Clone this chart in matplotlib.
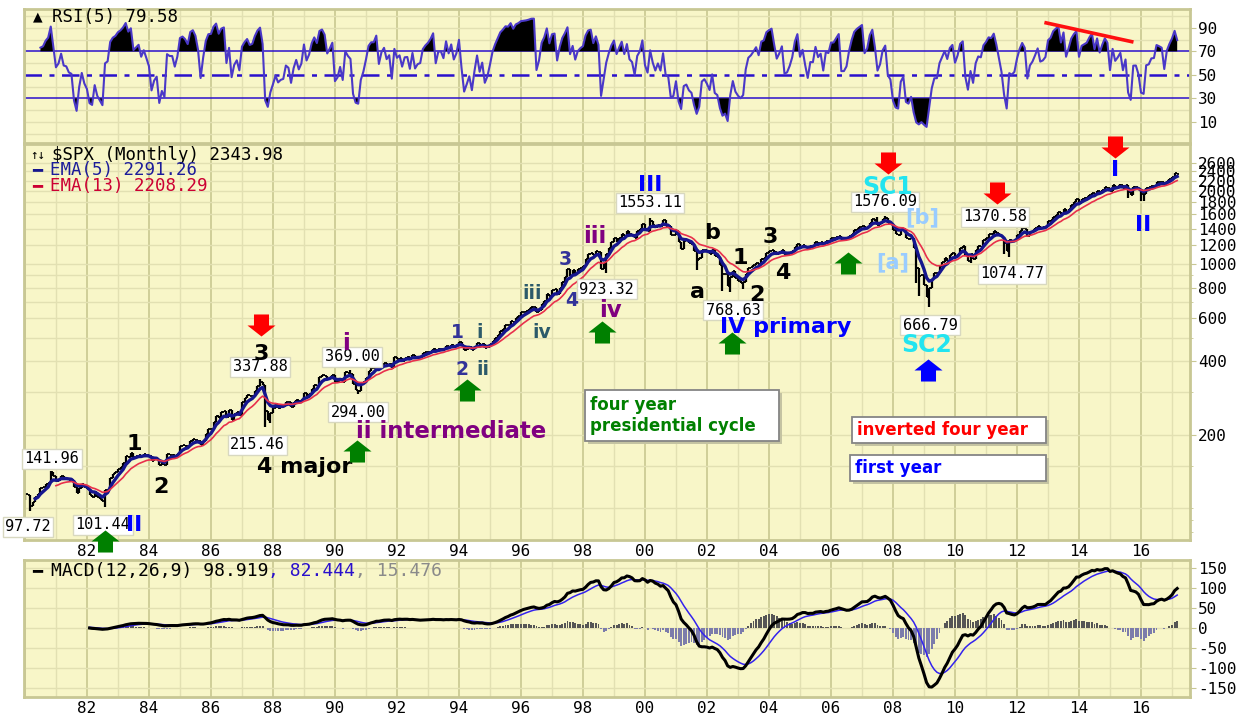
import numpy as np
import pandas as pd
import matplotlib
matplotlib.use("Agg")
import matplotlib.pyplot as plt
from matplotlib.path import Path
from matplotlib.patches import Rectangle
from matplotlib.ticker import FixedLocator, NullFormatter

plt.rcParams['font.family'] = ['DejaVu Sans Mono', 'DejaVu Sans']
plt.rcParams['axes.unicode_minus'] = False

# S&P 500 monthly closes, Jan 1980 .. Mar 2017
spx_close = [
    114.16, 113.66, 102.09, 106.29, 111.24, 114.24, 121.67, 122.38, 125.46, 127.47, 140.52, 135.76,  # 1980
    129.55, 131.27, 136.00, 132.81, 132.59, 131.21, 130.92, 122.79, 116.18, 121.89, 126.35, 122.55,  # 1981
    120.40, 113.11, 111.96, 116.44, 111.88, 109.61, 107.09, 119.51, 120.42, 133.71, 138.54, 140.64,  # 1982
    145.30, 148.06, 152.96, 164.42, 162.39, 168.11, 162.56, 164.40, 166.07, 163.55, 166.40, 164.93,  # 1983
    163.41, 157.06, 159.18, 160.05, 150.55, 153.18, 150.66, 166.68, 166.10, 166.09, 163.58, 167.24,  # 1984
    179.63, 181.18, 180.66, 179.83, 189.55, 191.85, 190.92, 188.63, 182.08, 189.82, 202.17, 211.28,  # 1985
    211.78, 226.92, 238.90, 235.52, 247.35, 250.84, 236.12, 252.93, 231.32, 243.98, 249.22, 242.17,  # 1986
    274.08, 284.20, 291.70, 288.36, 290.10, 304.00, 318.66, 329.80, 321.83, 251.79, 230.30, 247.08,  # 1987
    257.07, 267.82, 258.89, 261.33, 262.16, 273.50, 272.02, 261.52, 271.91, 278.97, 273.70, 277.72,  # 1988
    297.47, 288.86, 294.87, 309.64, 320.52, 317.98, 346.08, 351.45, 349.15, 340.36, 345.99, 353.40,  # 1989
    329.08, 331.89, 339.94, 330.80, 361.23, 358.02, 356.15, 322.56, 306.05, 304.00, 322.22, 330.22,  # 1990
    343.93, 367.07, 375.22, 375.35, 389.83, 371.16, 387.81, 395.43, 387.86, 392.45, 375.22, 417.09,  # 1991
    408.79, 412.70, 403.69, 414.95, 415.35, 408.14, 424.21, 414.03, 417.80, 418.68, 431.35, 435.71,  # 1992
    438.78, 443.38, 451.67, 440.19, 450.19, 450.53, 448.13, 463.56, 458.93, 467.83, 461.79, 466.45,  # 1993
    481.61, 467.14, 445.77, 450.91, 456.50, 444.27, 458.26, 475.49, 462.69, 472.35, 453.69, 459.27,  # 1994
    470.42, 487.39, 500.71, 514.71, 533.40, 544.75, 562.06, 561.88, 584.41, 581.50, 605.37, 615.93,  # 1995
    636.02, 640.43, 645.50, 654.17, 669.12, 670.63, 639.95, 651.99, 687.31, 705.27, 757.02, 740.74,  # 1996
    786.16, 790.82, 757.12, 801.34, 848.28, 885.14, 954.29, 899.47, 947.28, 914.62, 955.40, 970.43,  # 1997
    980.28, 1049.34, 1101.75, 1111.75, 1090.82, 1133.84, 1120.67, 957.28, 1017.01, 1098.67, 1163.63, 1229.23,  # 1998
    1279.64, 1238.33, 1286.37, 1335.18, 1301.84, 1372.71, 1328.72, 1320.41, 1282.71, 1362.93, 1388.91, 1469.25,  # 1999
    1394.46, 1366.42, 1498.58, 1452.43, 1420.60, 1454.60, 1430.83, 1517.68, 1436.51, 1429.40, 1314.95, 1320.28,  # 2000
    1366.01, 1239.94, 1160.33, 1249.46, 1255.82, 1224.42, 1211.23, 1133.58, 1040.94, 1059.78, 1139.45, 1148.08,  # 2001
    1130.20, 1106.73, 1147.39, 1076.92, 1067.14, 989.82, 911.62, 916.07, 815.28, 885.76, 936.31, 879.82,  # 2002
    855.70, 841.15, 848.18, 916.92, 963.59, 974.50, 990.31, 1008.01, 995.97, 1050.71, 1058.20, 1111.92,  # 2003
    1131.13, 1144.94, 1126.21, 1107.30, 1120.68, 1140.84, 1101.72, 1104.24, 1114.58, 1130.20, 1173.82, 1211.92,  # 2004
    1181.27, 1203.60, 1180.59, 1156.85, 1191.50, 1191.33, 1234.18, 1220.33, 1228.81, 1207.01, 1249.48, 1248.29,  # 2005
    1280.08, 1280.66, 1294.83, 1310.61, 1270.09, 1270.20, 1276.66, 1303.82, 1335.85, 1377.94, 1400.63, 1418.30,  # 2006
    1438.24, 1406.82, 1420.86, 1482.37, 1530.62, 1503.35, 1455.27, 1473.99, 1526.75, 1549.38, 1481.14, 1468.36,  # 2007
    1378.55, 1330.63, 1322.70, 1385.59, 1400.38, 1280.00, 1267.38, 1282.83, 1166.36, 968.75, 896.24, 903.25,  # 2008
    825.88, 735.09, 797.87, 872.81, 919.14, 919.32, 987.48, 1020.62, 1057.08, 1036.19, 1095.63, 1115.10,  # 2009
    1073.87, 1104.49, 1169.43, 1186.69, 1089.41, 1030.71, 1101.60, 1049.33, 1141.20, 1183.26, 1180.55, 1257.64,  # 2010
    1286.12, 1327.22, 1325.83, 1363.61, 1345.20, 1320.64, 1292.28, 1218.89, 1131.42, 1253.30, 1246.96, 1257.60,  # 2011
    1312.41, 1365.68, 1408.47, 1397.91, 1310.33, 1362.16, 1379.32, 1406.58, 1440.67, 1412.16, 1416.18, 1426.19,  # 2012
    1498.11, 1514.68, 1569.19, 1597.57, 1630.74, 1606.28, 1685.73, 1632.97, 1681.55, 1756.54, 1805.81, 1848.36,  # 2013
    1782.59, 1859.45, 1872.34, 1883.95, 1923.57, 1960.23, 1930.67, 2003.37, 1972.29, 2018.05, 2067.56, 2058.90,  # 2014
    1994.99, 2104.50, 2067.89, 2085.51, 2107.39, 2063.11, 2103.84, 1972.18, 1920.03, 2079.36, 2080.41, 2043.94,  # 2015
    1940.24, 1932.23, 2059.74, 2065.30, 2096.95, 2098.86, 2173.60, 2170.95, 2168.27, 2126.15, 2198.81, 2238.83,  # 2016
    2278.87, 2363.64, 2343.98,  # 2017
]
close_before_start = 107.94   # Dec 1979
first_year = 1980

# monthly extremes that show up as long wicks / labelled pivots
bar_lows = {"1980-03": 97.72, "1982-08": 101.44, "1987-10": 215.46, "1987-12": 223.9,
            "1990-10": 294.00, "1998-10": 923.32, "2001-09": 944.8, "2002-07": 775.7,
            "2002-10": 768.63, "2003-03": 788.9, "2008-10": 839.8, "2008-11": 741.0,
            "2009-03": 666.79, "2010-07": 1010.9, "2011-08": 1101.5, "2011-10": 1074.77,
            "2015-08": 1867.0, "2016-01": 1812.3, "2016-02": 1810.1}
bar_highs = {"1980-11": 141.96, "1987-08": 337.88, "1990-07": 369.00, "2000-03": 1553.11,
             "2007-07": 1555.9, "2007-10": 1576.09, "2011-05": 1370.58, "2015-05": 2134.7}

# price callouts: text, year, price
callouts = [("97.72", 1980.10, 84.0), ("141.96", 1980.87, 159.5), ("101.44", 1982.52, 85.6),
            ("337.88", 1987.58, 379.8), ("215.46", 1987.50, 182.0), ("369.00", 1990.55, 417.3),
            ("294.00", 1990.74, 248.4), ("923.32", 1998.77, 792), ("1553.11", 2000.16, 1783),
            ("768.63", 2002.84, 650), ("1576.09", 2007.74, 1800), ("666.79", 2009.19, 564),
            ("1370.58", 2011.29, 1563), ("1074.77", 2011.84, 913)]

# wave labels by colour group: text, year, price
waves_black = [("1", 1983.52, 183.7), ("2", 1984.39, 122.5), ("3", 1987.61, 429.4),
               ("4 major", 1989.03, 148.0), ("a", 2001.68, 770), ("b", 2002.16, 1344),
               ("1", 2003.06, 1062), ("2", 2003.61, 749), ("3", 2004.03, 1294), ("4", 2004.45, 922)]
waves_blue = [("II", 1983.52, 85.6), ("III", 2000.16, 2113), ("IV primary", 2004.55, 554),
              ("I", 2015.16, 2434), ("II", 2016.06, 1449)]
waves_purple = [("i", 1990.35, 471.8), ("ii intermediate", 1993.74, 207.6),
                ("iii", 1998.39, 1294), ("iv", 1998.87, 650)]
waves_slate = [("1", 1993.94, 523.4), ("2", 1994.10, 369.2), ("3", 1997.42, 1042), ("4", 1997.65, 714)]
waves_teal = [("i", 1994.68, 523.4), ("ii", 1994.77, 369.2), ("iii", 1996.35, 756), ("iv", 1996.68, 528)]
waves_cyan = [("SC1", 2007.84, 2073), ("SC2", 2009.10, 467)]
waves_light = [("[a]", 2008.00, 1023), ("[b]", 2008.94, 1563)]

# signal arrows: year, price
arrows_green_up = [(1982.58, 73.3), (1990.71, 172.1), (1994.26, 305.7), (1998.61, 528),
                   (2002.81, 476), (2006.55, 1013)]
arrows_red_down = [(1987.61, 564), (2007.84, 2600), (2011.35, 1960), (2015.16, 3024)]
arrows_blue_up = [(2009.13, 369)]

rsi_trend_years = [2012.94, 2015.70]
rsi_trend_values = [94.2, 78.2]

year_ticks = list(range(1982, 2017, 2))
year_labels = ["%02d" % (y % 100) for y in year_ticks]
price_ticks = [200, 400, 600, 800, 1000, 1200, 1400, 1600, 1800, 2000, 2200, 2400, 2600]
price_minor = [80, 90, 100, 150, 300, 500, 700, 900]
rsi_ticks = [10, 30, 50, 70, 90]
macd_ticks = [-150, -100, -50, 0, 50, 100, 150]

# ---------------------------------------------------------------- indicators
close = np.array(spx_close)
n = len(close)
t = first_year + np.arange(n) / 12.0
opens = np.r_[close_before_start, close[:-1]]
highs = np.maximum(opens, close)
lows = np.minimum(opens, close)
for key, v in bar_lows.items():
    i = (int(key[:4]) - first_year) * 12 + int(key[5:]) - 1
    lows[i] = min(lows[i], v)
for key, v in bar_highs.items():
    i = (int(key[:4]) - first_year) * 12 + int(key[5:]) - 1
    highs[i] = max(highs[i], v)

s = pd.Series(close)
ema5 = s.ewm(span=5, adjust=False).mean().values
ema13 = s.ewm(span=13, adjust=False).mean().values
delta = s.diff()
gain = delta.clip(lower=0).ewm(alpha=1 / 5, adjust=False).mean()
loss = (-delta.clip(upper=0)).ewm(alpha=1 / 5, adjust=False).mean()
rsi = (100 - 100 / (1 + gain / loss)).values
macd = (s.ewm(span=12, adjust=False).mean() - s.ewm(span=26, adjust=False).mean())
signal = macd.ewm(span=9, adjust=False).mean()
hist = (macd - signal).values
macd = macd.values
signal = signal.values

# ---------------------------------------------------------------- layout
W, H = 1245, 717
BG = "#F8F6C8"
GRID_DARK = "#CFCE98"
GRID_LIGHT = "#E2E0B2"
BORDER = "#C8C794"
X0, X1 = 1979.97, 2017.58

fig = plt.figure(figsize=(W / 100, H / 100), dpi=100)
fig.patch.set_facecolor("white")
ax_rsi = fig.add_axes([24 / W, 1 - 143 / H, 1166 / W, 134 / H])
ax_px = fig.add_axes([24 / W, 1 - 540 / H, 1166 / W, 396 / H])
ax_macd = fig.add_axes([24 / W, 1 - 697 / H, 1166 / W, 137 / H])


def panel(ax, hlines):
    ax.set_facecolor(BG)
    ax.set_xlim(X0, X1)
    for yr in range(1980, 2018):
        even = yr % 2 == 0
        ax.axvline(yr, color=GRID_DARK if even else GRID_LIGHT, lw=1.4 if even else 1.0, zorder=0)
    for v in hlines:
        ax.axhline(v, color=GRID_LIGHT, lw=1.0, zorder=0)
    for sp in ax.spines.values():
        sp.set_color(BORDER)
        sp.set_linewidth(2)
    ax.yaxis.tick_right()
    ax.tick_params(axis="y", which="major", length=4, color=BORDER, pad=2, labelsize=11.5)
    ax.tick_params(axis="y", which="minor", length=2, color=BORDER)
    ax.tick_params(axis="x", length=0, pad=3, labelsize=11.5)
    ax.set_xticks(year_ticks)
    ax.set_xticklabels(year_labels)


# ---- RSI
panel(ax_rsi, [0, 10, 20, 40, 60, 80, 90, 100])
ax_rsi.set_ylim(-8, 106)
ax_rsi.set_yticks(rsi_ticks)
ax_rsi.tick_params(axis="x", labelbottom=False)
rc = "#2A10CC"
ax_rsi.axhline(70, color=rc, lw=1.1, zorder=1)
ax_rsi.axhline(30, color=rc, lw=1.1, zorder=1)
ax_rsi.axhline(50, color=rc, lw=1.8, ls=(0, (7, 3, 2, 3)), zorder=1)
tr, rr = t[6:], rsi[6:]
ax_rsi.fill_between(tr, rr, 70, where=rr > 70, interpolate=True, color="black", lw=0, zorder=2)
ax_rsi.fill_between(tr, rr, 30, where=rr < 30, interpolate=True, color="black", lw=0, zorder=2)
ax_rsi.plot(tr, rr, color="#4A38C8", lw=1.5, zorder=3)
ax_rsi.plot(rsi_trend_years, rsi_trend_values, color="#FF1010", lw=2.6, zorder=4)
ax_rsi.text(0.0115, 0.94, "▲", transform=ax_rsi.transAxes, fontsize=9, color="black",
            ha="center", va="center", family="DejaVu Sans")
ax_rsi.text(0.024, 0.94, "RSI(5) 79.58", transform=ax_rsi.transAxes, fontsize=12.5,
            ha="left", va="center", color="black")

# ---- price
panel(ax_px, [])
ax_px.set_yscale("log")
ax_px.set_ylim(74.3, 3110)
for v in price_ticks + [300, 500, 700, 900, 100, 150]:
    ax_px.axhline(v, color=GRID_LIGHT, lw=1.0, zorder=0)
ax_px.yaxis.set_major_locator(FixedLocator(price_ticks))
ax_px.set_yticklabels([str(v) for v in price_ticks])
ax_px.yaxis.set_minor_locator(FixedLocator(price_minor))
ax_px.yaxis.set_minor_formatter(NullFormatter())
ax_px.set_xlim(X0, X1)

ax_px.vlines(t, lows, highs, color="black", lw=1.6, zorder=2)
ax_px.hlines(opens, t - 0.045, t, color="black", lw=1.3, zorder=2)
ax_px.hlines(close, t, t + 0.045, color="black", lw=1.3, zorder=2)
ax_px.plot(t[4:], ema5[4:], color="#16168E", lw=2.4, zorder=3)
ax_px.plot(t[12:], ema13[12:], color="#E8304C", lw=1.2, zorder=4)

ax_px.text(0.0115, 0.972, "↑↓", transform=ax_px.transAxes, fontsize=9, ha="center", va="center")
ax_px.text(0.024, 0.972, "$SPX (Monthly) 2343.98", transform=ax_px.transAxes, fontsize=12.5,
           ha="left", va="center", color="black")
ax_px.text(0.0115, 0.934, "━", transform=ax_px.transAxes, fontsize=12, ha="center", va="center",
           color="#16168E")
ax_px.text(0.0225, 0.934, "EMA(5) 2291.26", transform=ax_px.transAxes, fontsize=12.5,
           ha="left", va="center", color="#1C1C9A")
ax_px.text(0.0115, 0.894, "━", transform=ax_px.transAxes, fontsize=12, ha="center", va="center",
           color="#CC0033")
ax_px.text(0.0225, 0.894, "EMA(13) 2208.29", transform=ax_px.transAxes, fontsize=12.5,
           ha="left", va="center", color="#CC0033")

for txt, yr, p in callouts:
    ax_px.text(yr, p, txt, fontsize=11, ha="center", va="center", color="black", zorder=6,
               bbox=dict(boxstyle="square,pad=0.15", fc="white", ec="#D8D8C0", lw=1))

wave_groups = [(waves_black, "black", 16), (waves_blue, "#0000FF", 16),
               (waves_purple, "#800080", 16.5), (waves_slate, "#333399", 13.5),
               (waves_teal, "#2C5A6A", 13.5), (waves_cyan, "#22E4F0", 17),
               (waves_light, "#99CCFF", 15)]
for group, col, size in wave_groups:
    for txt, yr, p in group:
        ax_px.text(yr, p, txt, fontsize=size, fontweight="bold", family="DejaVu Sans",
                   color=col, ha="center", va="center", zorder=6)

up_verts = [(0, 11), (14, 0), (7.5, 0), (7.5, -11), (-7.5, -11), (-7.5, 0), (-14, 0), (0, 11)]
up_arrow = Path(up_verts)
down_arrow = Path([(x, -y) for x, y in up_verts])
for pts, marker, col in [(arrows_green_up, up_arrow, "#008000"),
                         (arrows_red_down, down_arrow, "#FF0000"),
                         (arrows_blue_up, up_arrow, "#0000FF")]:
    ax_px.plot([a for a, b in pts], [b for a, b in pts], ls="none", marker=marker,
               markersize=20.2, color=col, mec=col, mew=0, clip_on=False, zorder=7)

# cycle notes
notes = [((0.481, 0.250, 0.1664, 0.129), [("four year", 0.341), ("presidential cycle", 0.288)], "#008000"),
         ((0.7101, 0.245, 0.1664, 0.0657), [("inverted four year", 0.278)], "#FF0000"),
         ((0.7084, 0.149, 0.168, 0.0657), [("first year", 0.182)], "#0000FF")]
for (bx, by, bw, bh), lines, col in notes:
    ax_px.add_patch(Rectangle((bx + 0.0028, by - 0.008), bw, bh, transform=ax_px.transAxes,
                              fc="#C4C3A2", ec="none", zorder=6))
    ax_px.add_patch(Rectangle((bx, by), bw, bh, transform=ax_px.transAxes,
                              fc="white", ec="#858585", lw=1.3, zorder=7))
    for txt, ty in lines:
        ax_px.text(bx + 0.004, ty, txt, transform=ax_px.transAxes, fontsize=12, fontweight="bold",
                   family="DejaVu Sans", color=col, ha="left", va="center", zorder=8)

# ---- MACD
panel(ax_macd, macd_ticks)
ax_macd.set_ylim(-172, 170)
ax_macd.set_yticks(macd_ticks)
ax_macd.set_yticklabels([str(v) for v in macd_ticks])
k = 25
ax_macd.bar(t[k:], hist[k:], width=0.062, color=np.where(hist[k:] >= 0, "#555555", "#7C7CAB"),
            lw=0, zorder=2)
ax_macd.plot(t[k:], signal[k:], color="#3322EE", lw=1.1, zorder=3)
ax_macd.plot(t[k:], macd[k:], color="black", lw=2.2, zorder=4)
ax_macd.text(0.0115, 0.92, "━", transform=ax_macd.transAxes, fontsize=12, ha="center", va="center")
t1 = ax_macd.text(0.023, 0.92, "MACD(12,26,9) 98.919", transform=ax_macd.transAxes, fontsize=13,
                  ha="left", va="center", color="black")
t2 = ax_macd.annotate(", 82.444", xy=(1, 0.5), xycoords=t1, fontsize=13, ha="left", va="center",
                      color="#2A10CC")
ax_macd.annotate(", 15.476", xy=(1, 0.5), xycoords=t2, fontsize=13, ha="left", va="center",
                 color="#8A8A8A")

fig.savefig("out.png", dpi=100, facecolor="white")
